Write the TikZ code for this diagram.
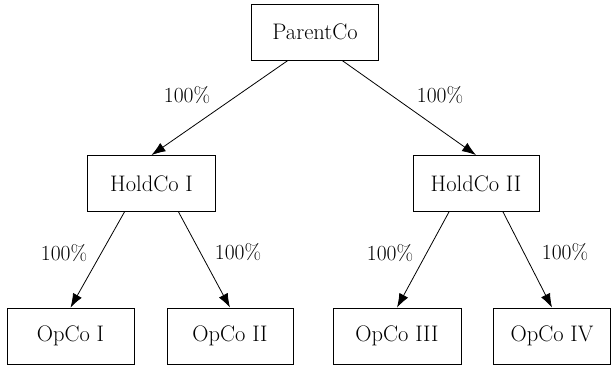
\documentclass[tikz,border=0pt]{standalone}
\usetikzlibrary{arrows.meta}
\begin{document}
\begin{tikzpicture}[x=1pt,y=1pt,
  entity/.style={draw, line width=0.8pt, minimum width=127pt, minimum height=56pt, inner sep=0pt, font=\fontsize{22.5}{27}\selectfont},
  pct/.style={inner sep=0pt, font=\fontsize{21.5}{25}\selectfont},
  own/.style={line width=0.8pt, -{Latex[length=14pt,width=10pt]}}]
\useasboundingbox (0,0) rectangle (612,366);
\node[entity] (parent) at (315,334) {ParentCo};
\node[entity, minimum width=128pt] (h1) at (151.5,182.5) {HoldCo I};
\node[entity, minimum width=126pt] (h2) at (476,182.5) {HoldCo II};
\node[entity] (o1) at (70.5,30) {OpCo I};
\node[entity, minimum width=126pt] (o2) at (230,30) {OpCo II};
\node[entity, minimum width=128pt] (o3) at (397,30) {OpCo III};
\node[entity, minimum width=117pt] (o4) at (552,30) {OpCo IV};
\draw[own] ([xshift=-27pt]parent.south) -- (h1.north);
\draw[own] ([xshift=27pt]parent.south) -- (h2.north);
\draw[own] ([xshift=-27pt]h1.south) -- (o1.north);
\draw[own] ([xshift=27pt]h1.south) -- (o2.north);
\draw[own] ([xshift=-27pt]h2.south) -- (o3.north);
\draw[own] ([xshift=27pt]h2.south) -- (o4.north);
\node[pct] (l1) at (187,271) {100\%};
\node[pct] (l2) at (440,271) {100\%};
\node[pct] (l3) at (64,113) {100\%};
\node[pct] (l4) at (238,114) {100\%};
\node[pct] (l5) at (390,113) {100\%};
\node[pct] (l6) at (565,114) {100\%};
\end{tikzpicture}
\end{document}
